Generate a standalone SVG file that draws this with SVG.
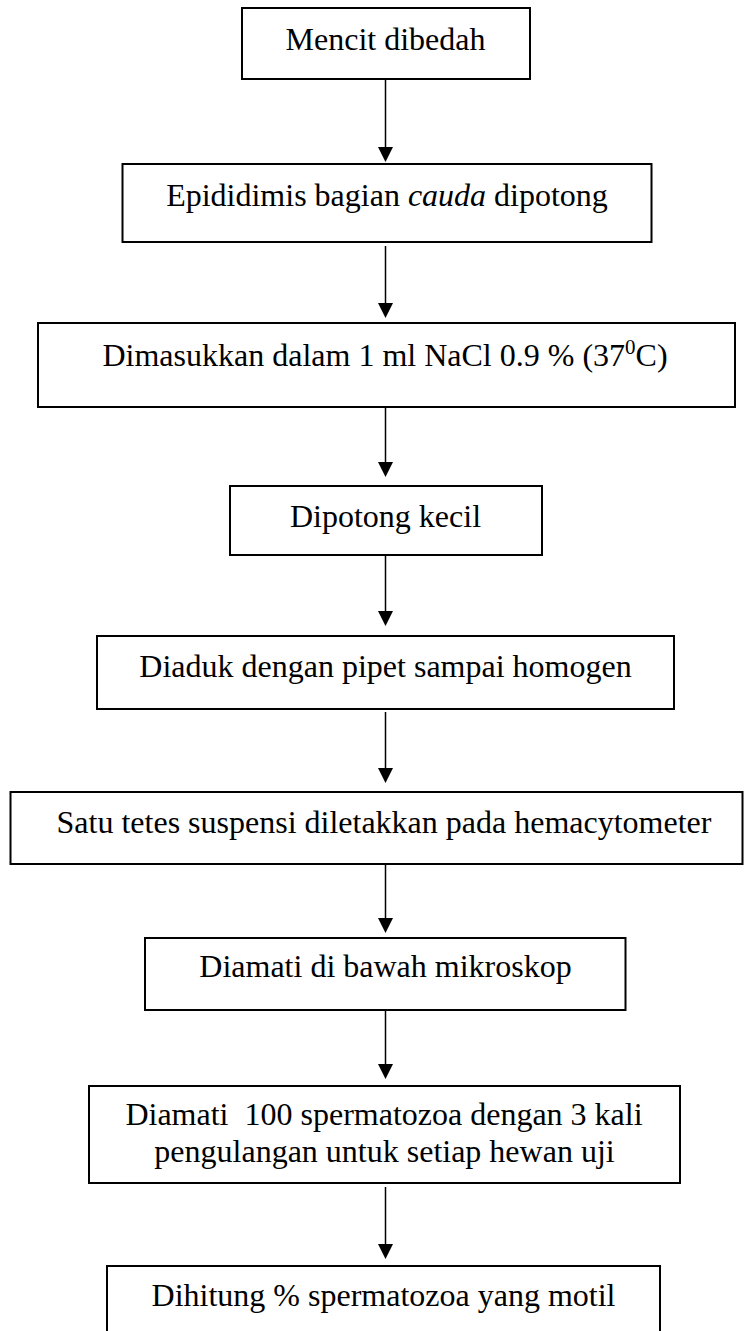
<svg xmlns="http://www.w3.org/2000/svg" width="744" height="1331" viewBox="0 0 744 1331">
<style>
.box{fill:#fff;stroke:#000;stroke-width:2}
.lbl{font-family:"Liberation Serif","Times New Roman",serif;font-size:32px;fill:#000;text-anchor:middle}
.conn{stroke:#000;stroke-width:1.5;fill:none;marker-end:url(#ah)}
</style>
<defs>
<marker id="ah" markerUnits="userSpaceOnUse" markerWidth="15" markerHeight="15" viewBox="0 0 15 15" refX="10" refY="7.5" orient="auto">
<path d="M0,0 L15,7.5 L0,15 z" fill="#000"/>
</marker>
</defs>
<rect width="744" height="1331" fill="#fff"/>
<g id="connectors">
<line class="conn" x1="385.5" y1="80" x2="385.5" y2="157"/>
<line class="conn" x1="385.5" y1="246" x2="385.5" y2="313"/>
<line class="conn" x1="385.5" y1="407" x2="385.5" y2="472"/>
<line class="conn" x1="385.5" y1="555" x2="385.5" y2="621"/>
<line class="conn" x1="385.5" y1="712" x2="385.5" y2="778"/>
<line class="conn" x1="385.5" y1="862" x2="385.5" y2="928"/>
<line class="conn" x1="385.5" y1="1007" x2="385.5" y2="1074"/>
<line class="conn" x1="385.5" y1="1187" x2="385.5" y2="1254"/>
</g>
<g id="n1">
<rect class="box" x="242" y="8" width="288" height="71"/>
<text class="lbl" x="385.5" y="50">Mencit dibedah</text>
</g>
<g id="n2">
<rect class="box" x="122.5" y="164" width="529" height="78"/>
<text class="lbl" x="387" y="206">Epididimis bagian <tspan font-style="italic">cauda</tspan> dipotong</text>
</g>
<g id="n3">
<rect class="box" x="38" y="323" width="697" height="84"/>
<text class="lbl" x="385" y="366">Dimasukkan dalam 1 ml NaCl 0.9 % (37<tspan font-size="21" dy="-12">0</tspan><tspan dy="12">C)</tspan></text>
</g>
<g id="n4">
<rect class="box" x="230" y="486" width="312" height="69"/>
<text class="lbl" x="385.5" y="527">Dipotong kecil</text>
</g>
<g id="n5">
<rect class="box" x="97" y="636" width="577" height="73"/>
<text class="lbl" x="385.5" y="677">Diaduk dengan pipet sampai homogen</text>
</g>
<g id="n6">
<rect class="box" x="10.5" y="792" width="732" height="72"/>
<text class="lbl" x="384" y="833">Satu tetes suspensi diletakkan pada hemacytometer</text>
</g>
<g id="n7">
<rect class="box" x="145" y="938" width="480.5" height="72"/>
<text class="lbl" x="385.5" y="977">Diamati di bawah mikroskop</text>
</g>
<g id="n8">
<rect class="box" x="89" y="1086" width="591" height="97"/>
<text class="lbl" x="384" y="1125" xml:space="preserve" style="white-space:pre">Diamati  100 spermatozoa dengan 3 kali</text>
<text class="lbl" x="384.5" y="1162">pengulangan untuk setiap hewan uji</text>
</g>
<g id="n9">
<rect class="box" x="107" y="1266" width="553" height="100"/>
<text class="lbl" x="383.5" y="1306">Dihitung % spermatozoa yang motil</text>
</g>
</svg>
